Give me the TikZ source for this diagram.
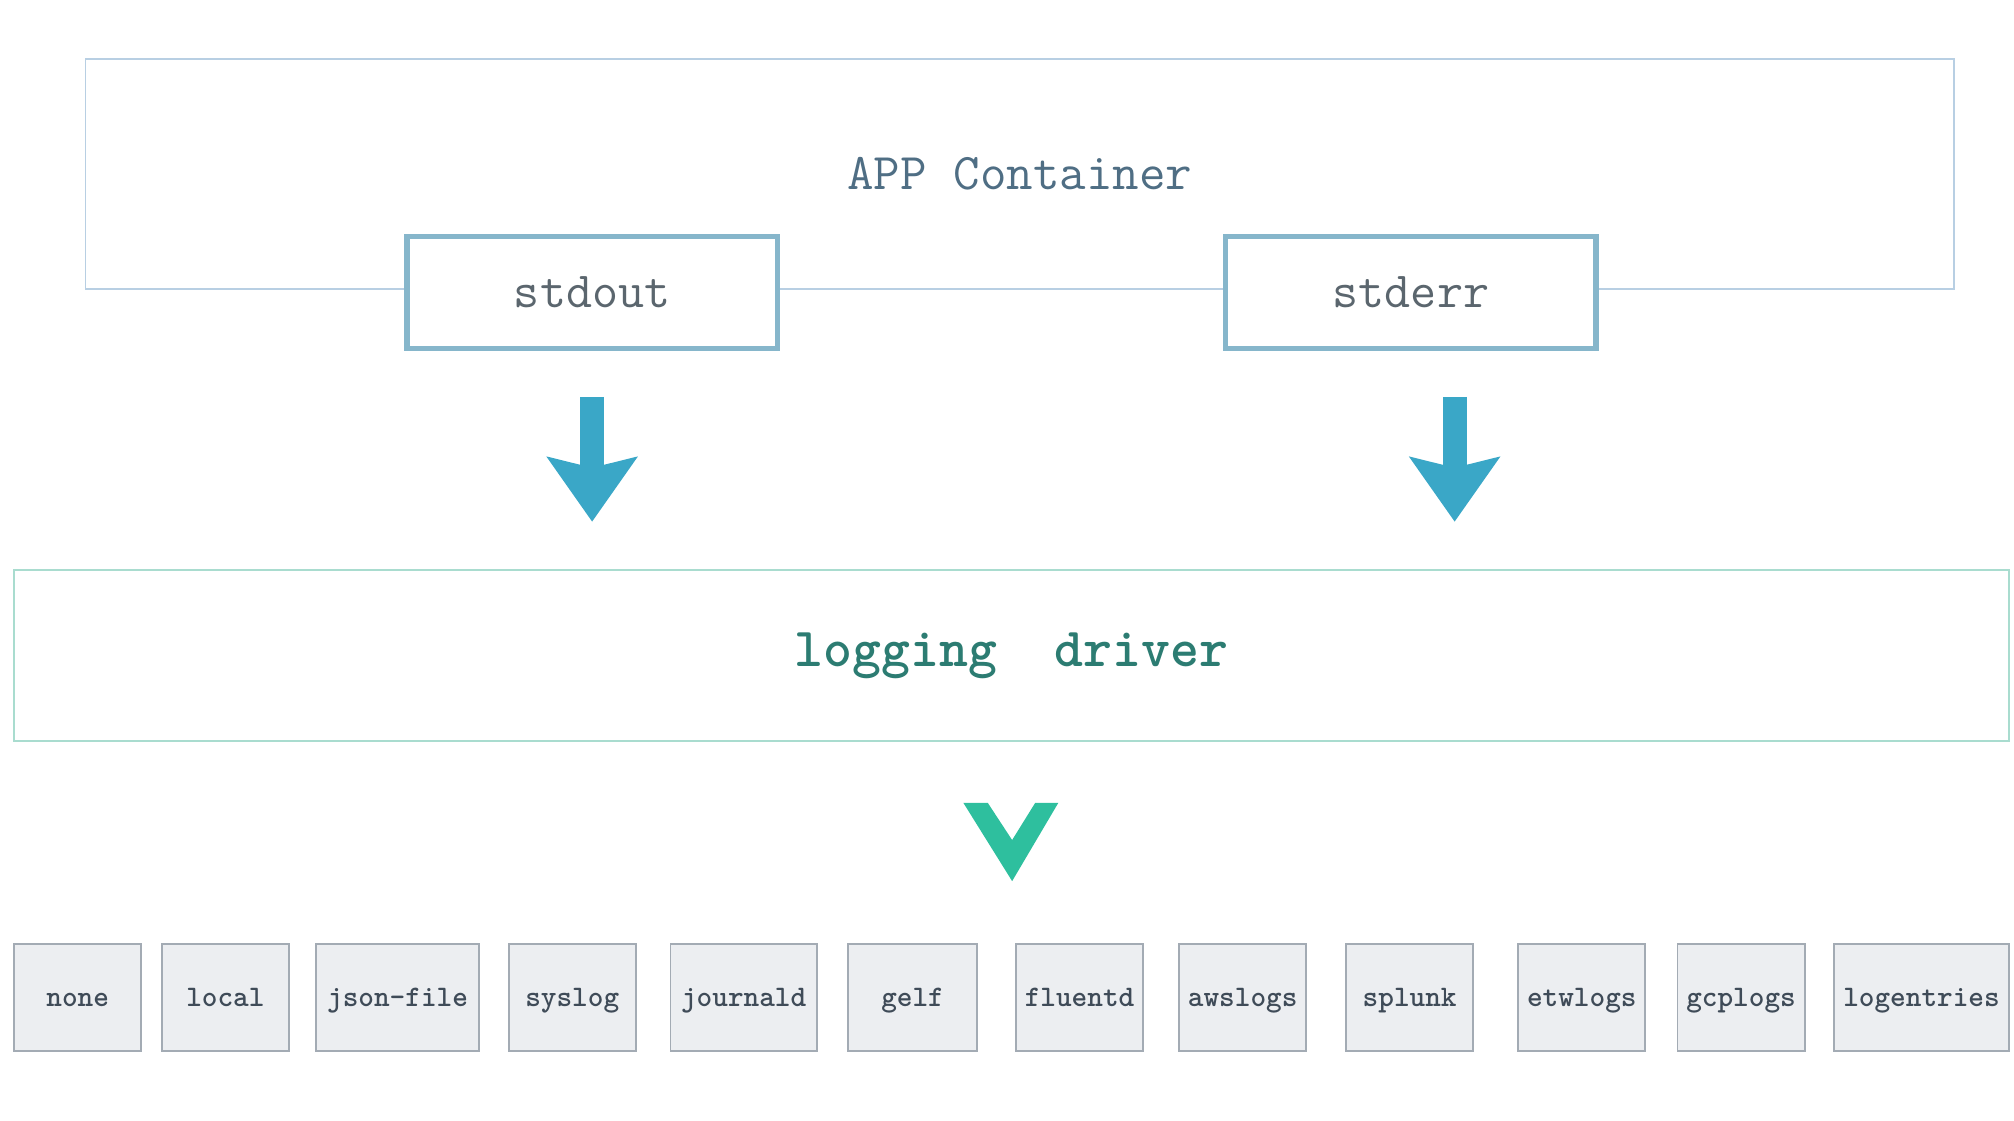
\documentclass[tikz,border=0pt]{standalone}
\usetikzlibrary{arrows.meta}

\definecolor{contline}{HTML}{B8CFE3}
\definecolor{apptext}{HTML}{4F6E84}
\definecolor{portline}{HTML}{86B6CB}
\definecolor{porttext}{HTML}{5B666E}
\definecolor{arrowblue}{HTML}{3AA7C7}
\definecolor{drvline}{HTML}{A9DCCF}
\definecolor{drvtext}{HTML}{2C7C72}
\definecolor{vgreen}{HTML}{2EBF9E}
\definecolor{plugfill}{HTML}{ECEEF1}
\definecolor{plugline}{HTML}{A3ABB4}
\definecolor{plugtext}{HTML}{3F4B58}

\begin{document}
\begin{tikzpicture}[x=0.01cm,y=-0.01cm,
	box/.style={draw,shape=rectangle,inner sep=0pt},
	port/.style={box,draw=portline,fill=white,line width=0.04cm,minimum width=2.88cm,minimum height=0.87cm,text=porttext,font=\ttfamily\fontsize{11.2}{13}\selectfont},
	plugin/.style={box,draw=plugline,fill=plugfill,line width=0.015cm,minimum height=0.83cm,text height=0.62em,text depth=0.2em,text=plugtext,font=\ttfamily\bfseries\fontsize{6.6}{8}\selectfont},
	flow/.style={draw=arrowblue,line width=0.187cm,-{Stealth[length=0.5cm,width=0.69cm,inset=0.08cm]},shorten >=0.37cm}]
	\useasboundingbox (0,0) rectangle (1568,872);
	% container with its two streams
	\node (container) [box,draw=contline,line width=0.015cm,minimum width=14.54cm,minimum height=1.79cm,text=apptext,font=\ttfamily\fontsize{11.4}{13}\selectfont] at (794,135.5) {APP Container};
	\node (stdout) [port] at (461,227.5) {stdout};
	\node (stderr) [port] at (1098.5,227.5) {stderr};
	% the driver
	\node (driver) [box,draw=drvline,line width=0.015cm,minimum width=15.53cm,minimum height=1.33cm,text=drvtext,font=\ttfamily\bfseries\fontsize{12.2}{14}\selectfont] at (787.5,510.5) {logging\ \ driver};
	\draw[flow] ([yshift=-0.36cm]stdout.south) -- (stdout.south |- driver.north);
	\draw[flow] ([xshift=0.34cm,yshift=-0.36cm]stderr.south) -- ([xshift=0.34cm]stderr.south |- driver.north);
	\fill[vgreen] (750,625) -- (769,625) -- (788,654) -- (806,625) -- (824,625) -- (788,686) -- cycle;
	% available drivers
	\foreach \name/\x/\w in {none/60.5/99,local/175.5/99,json-file/309.5/127,syslog/445.5/99,journald/579/114,gelf/710.5/101,fluentd/840.5/99,awslogs/967.5/99,splunk/1097.5/99,etwlogs/1231.5/99,gcplogs/1355.5/99,logentries/1496/136}
		\node (drv-\name) [plugin,minimum width=\w*0.01cm] at (\x,776.5) {\name};
\end{tikzpicture}
\end{document}
